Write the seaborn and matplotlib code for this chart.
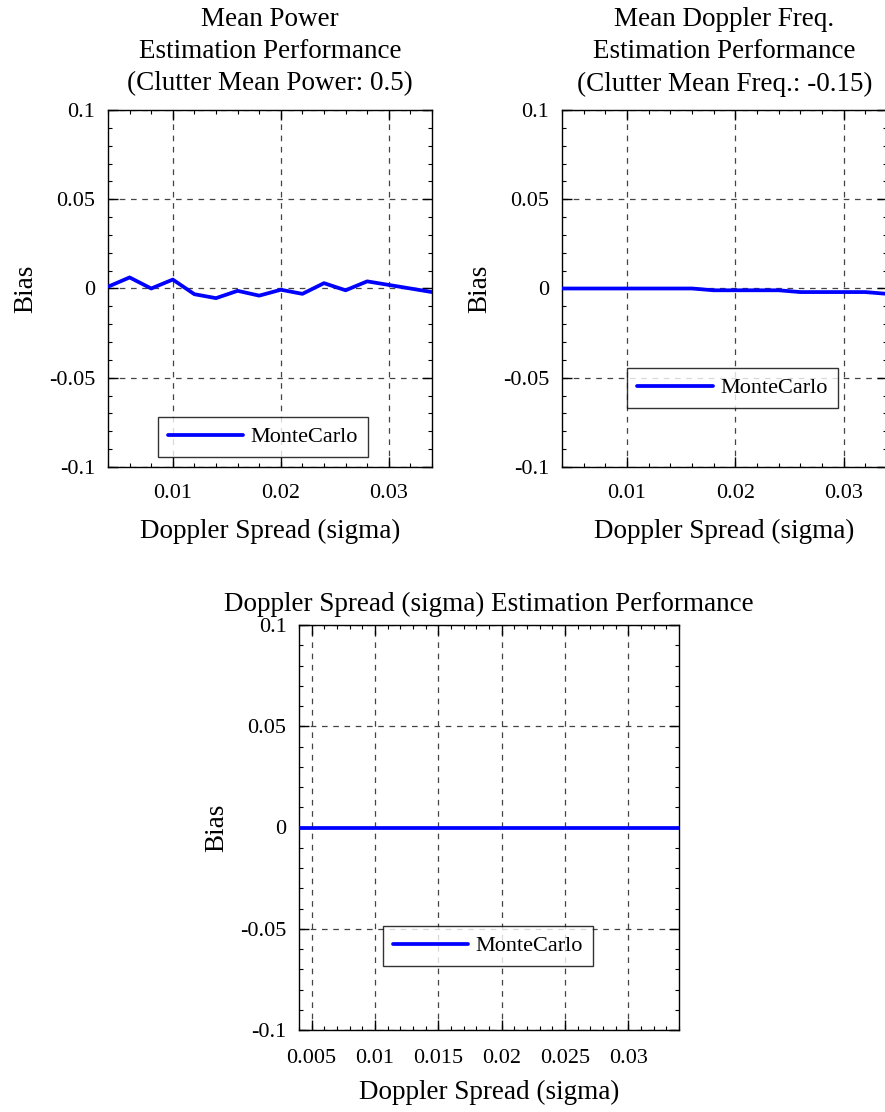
import numpy as np
import pandas as pd
import matplotlib
matplotlib.use("Agg")
import matplotlib.pyplot as plt
from matplotlib.ticker import MultipleLocator, FuncFormatter
import seaborn as sns

# ---- data ----
sigma = [0.004, 0.006, 0.008, 0.010, 0.012, 0.014, 0.016, 0.018,
         0.020, 0.022, 0.024, 0.026, 0.028, 0.030, 0.032, 0.034]
bias_power = [0.001, 0.0062, 0.0, 0.005, -0.0032, -0.0054, -0.0013, -0.004,
              -0.0007, -0.003, 0.003, -0.001, 0.004, 0.002, 0.0, -0.002]
bias_freq = [0.0, 0.0, 0.0, 0.0, 0.0, 0.0, 0.0, -0.001,
             -0.001, -0.001, -0.001, -0.002, -0.002, -0.002, -0.002, -0.003]
bias_sigma = [0.0] * 16

titles = ["Mean Power\nEstimation Performance\n(Clutter Mean Power: 0.5)",
          "Mean Doppler Freq.\nEstimation Performance\n(Clutter Mean Freq.: -0.15)",
          "Doppler Spread (sigma) Estimation Performance"]
xlabel = "Doppler Spread (sigma)"
ylabel = "Bias"
series_name = "MonteCarlo"

sns.set_style("ticks")
plt.rcParams['font.family'] = ['Liberation Serif', 'DejaVu Serif']
plt.rcParams['text.color'] = 'black'
plt.rcParams['axes.labelcolor'] = 'black'
plt.rcParams['xtick.color'] = 'black'
plt.rcParams['ytick.color'] = 'black'

fig = plt.figure(figsize=(8.85, 11.12), dpi=100)
ax1 = fig.add_axes([108/885, 1-467/1112, 324/885, 357/1112])
ax2 = fig.add_axes([562/885, 1-467/1112, 325/885, 357/1112])
ax3 = fig.add_axes([299/885, 1-1030/1112, 380/885, 405/1112])

def fmt(v, pos):
    s = f"{v:.3f}".rstrip('0').rstrip('.')
    if s in ("-0", "0.", ""):
        s = "0"
    return s

datasets = [bias_power, bias_freq, bias_sigma]
legend_locs = [(0.478, 0.084), (0.525, 0.221), (0.497, 0.207)]
for i, (ax, vals) in enumerate(zip([ax1, ax2, ax3], datasets)):
    df = pd.DataFrame({"sigma": sigma, "bias": vals, "series": series_name})
    sns.lineplot(data=df, x="sigma", y="bias", hue="series",
                 palette=["#0000ff"], linewidth=2.7, ax=ax, zorder=3)
    ax.set_xlim(0.004, 0.034)
    ax.set_ylim(-0.1, 0.1)
    if i < 2:
        ax.xaxis.set_major_locator(MultipleLocator(0.01))
        ax.xaxis.set_minor_locator(MultipleLocator(0.002))
    else:
        ax.xaxis.set_major_locator(MultipleLocator(0.005))
        ax.xaxis.set_minor_locator(MultipleLocator(0.001))
    ax.yaxis.set_major_locator(MultipleLocator(0.05))
    ax.yaxis.set_minor_locator(MultipleLocator(0.01))
    ax.xaxis.set_major_formatter(FuncFormatter(fmt))
    ax.yaxis.set_major_formatter(FuncFormatter(fmt))
    ax.tick_params(which='both', direction='in', top=True, right=True,
                   colors='black', labelsize=16)
    ax.tick_params(which='major', length=7, width=1.0)
    ax.tick_params(axis='x', which='major', pad=14 if i == 2 else 12)
    ax.tick_params(axis='y', which='major', pad=9)
    ax.tick_params(which='minor', length=3, width=0.8)
    ax.grid(True, which='major', linestyle=(0, (4.5, 4.5)), color='#444444',
            linewidth=0.9)
    for sp in ax.spines.values():
        sp.set_color('black')
        sp.set_linewidth(1.0)
    ax.set_xlabel(xlabel, fontsize=19.5, labelpad=12 if i < 2 else 8)
    ax.set_ylabel(ylabel, fontsize=19.5, labelpad=8)
    if i < 2:
        ax.set_title(titles[i], fontsize=19.5, pad=14, linespacing=1.38)
    else:
        ax.set_title(titles[i], fontsize=19.5, pad=10)
    leg = ax.legend(loc='center', bbox_to_anchor=legend_locs[i],
                    fontsize=16, frameon=True, fancybox=False,
                    handlelength=3.4, borderpad=0.45, handletextpad=0.35,
                    borderaxespad=0)
    leg.get_frame().set_edgecolor('black')
    leg.get_frame().set_linewidth(1.0)
    leg.set_title(None)

fig.savefig("out.png", dpi=100)
